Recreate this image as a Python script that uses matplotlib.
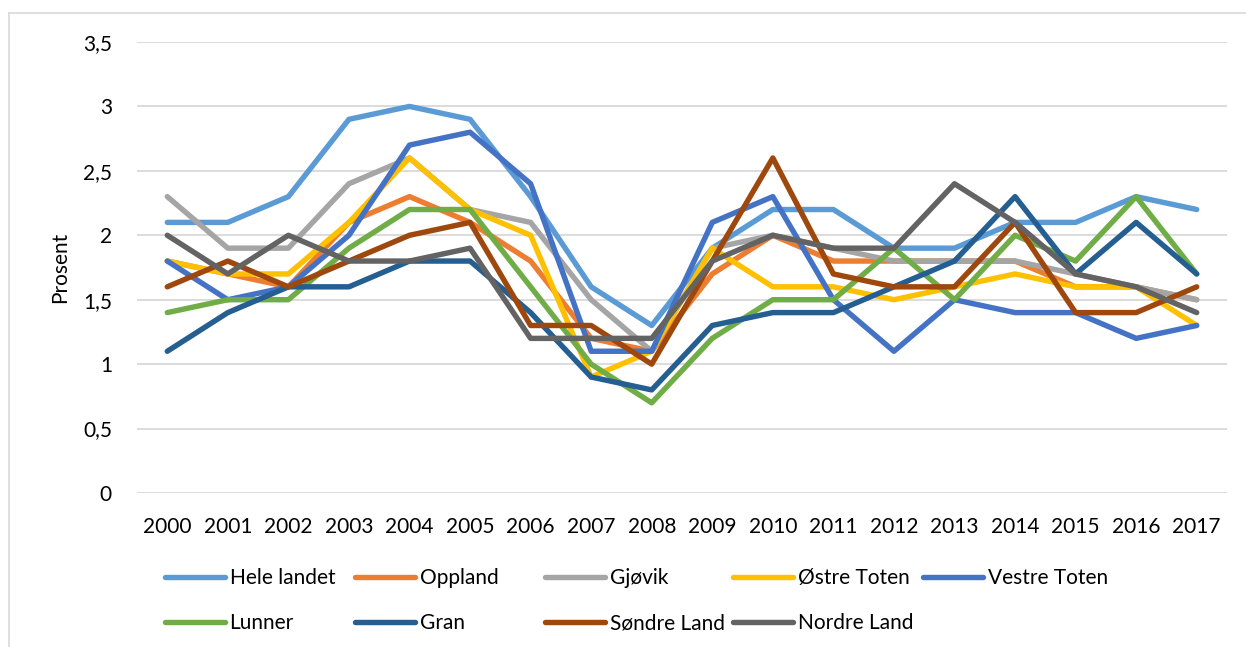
# arbeidsledighet_oppland.py
# Ledighet i prosent 2000-2017, Oppland-kommuner mot hele landet.

import matplotlib
matplotlib.use("Agg")
import matplotlib.pyplot as plt
from matplotlib.lines import Line2D

years = [str(y) for y in range(2000, 2018)]

hele_landet  = [2.1, 2.1, 2.3, 2.9, 3.0, 2.9, 2.3, 1.6, 1.3, 1.9, 2.2, 2.2, 1.9, 1.9, 2.1, 2.1, 2.3, 2.2]
oppland      = [1.8, 1.7, 1.6, 2.1, 2.3, 2.1, 1.8, 1.2, 1.1, 1.7, 2.0, 1.8, 1.8, 1.8, 1.8, 1.6, 1.6, 1.5]
gjovik       = [2.3, 1.9, 1.9, 2.4, 2.6, 2.2, 2.1, 1.5, 1.1, 1.9, 2.0, 1.9, 1.8, 1.8, 1.8, 1.7, 1.6, 1.5]
ostre_toten  = [1.8, 1.7, 1.7, 2.1, 2.6, 2.2, 2.0, 0.9, 1.1, 1.9, 1.6, 1.6, 1.5, 1.6, 1.7, 1.6, 1.6, 1.3]
vestre_toten = [1.8, 1.5, 1.6, 2.0, 2.7, 2.8, 2.4, 1.1, 1.1, 2.1, 2.3, 1.5, 1.1, 1.5, 1.4, 1.4, 1.2, 1.3]
lunner       = [1.4, 1.5, 1.5, 1.9, 2.2, 2.2, 1.6, 1.0, 0.7, 1.2, 1.5, 1.5, 1.9, 1.5, 2.0, 1.8, 2.3, 1.7]
gran         = [1.1, 1.4, 1.6, 1.6, 1.8, 1.8, 1.4, 0.9, 0.8, 1.3, 1.4, 1.4, 1.6, 1.8, 2.3, 1.7, 2.1, 1.7]
sondre_land  = [1.6, 1.8, 1.6, 1.8, 2.0, 2.1, 1.3, 1.3, 1.0, 1.8, 2.6, 1.7, 1.6, 1.6, 2.1, 1.4, 1.4, 1.6]
nordre_land  = [2.0, 1.7, 2.0, 1.8, 1.8, 1.9, 1.2, 1.2, 1.2, 1.8, 2.0, 1.9, 1.9, 2.4, 2.1, 1.7, 1.6, 1.4]

names = ["Hele landet", "Oppland", "Gjøvik", "Østre Toten", "Vestre Toten",
         "Lunner", "Gran", "Søndre Land", "Nordre Land"]
series = [hele_landet, oppland, gjovik, ostre_toten, vestre_toten,
          lunner, gran, sondre_land, nordre_land]
colors = ["#5B9BD5", "#ED7D31", "#A5A5A5", "#FFC000", "#4472C4",
          "#70AD47", "#255E91", "#9E480E", "#636363"]

yticks = [0, 0.5, 1, 1.5, 2, 2.5, 3, 3.5]
ytick_labels = ["0", "0,5", "1", "1,5", "2", "2,5", "3", "3,5"]

plt.rcParams["font.family"] = ["Lato", "DejaVu Sans"]
FS = 15

W, H = 1246, 647
fig = plt.figure(figsize=(W / 100, H / 100), dpi=100)
ax = fig.add_axes([137 / W, 1 - 493 / H, (1227 - 137) / W, (493 - 42) / H])

x = list(range(len(years)))
lines = []
for vals, name, col in zip(series, names, colors):
    ln, = ax.plot(x, vals, color=col, linewidth=3.9, label=name,
                  solid_joinstyle="round", solid_capstyle="round")
    lines.append(ln)

ax.set_xlim(-0.5, len(years) - 0.5)
ax.set_ylim(0, 3.5)
ax.set_xticks(x)
ax.set_xticklabels(years, fontsize=FS, color="#000000")
ax.set_yticks(yticks)
ax.set_yticklabels(ytick_labels, fontsize=FS, color="#000000")
ax.tick_params(axis="both", length=0)
ax.tick_params(axis="x", pad=17)
ax.tick_params(axis="y", pad=18)
ax.grid(axis="y", color="#D9D9D9", linewidth=1.3)
ax.set_axisbelow(True)
for sp in ax.spines.values():
    sp.set_visible(False)
ax.set_ylabel("Prosent", fontsize=FS, labelpad=9)

# forklaring: fem kolonner med lik bredde som i Excel
col_x = [165, 355, 545, 733, 923]
for c in range(5):
    idx = [i for i in (c, c + 5) if i < len(lines)]
    fig.legend([lines[i] for i in idx], [names[i] for i in idx],
               loc="upper left", bbox_to_anchor=(col_x[c] / W, 1 - 568 / H),
               frameon=False, fontsize=FS, handlelength=2.9, handletextpad=0.2,
               borderpad=0, borderaxespad=0, labelspacing=1.2)

# ramme rundt diagrammet (bare venstre og topp synlig)
fig.add_artist(Line2D([9 / W, 9 / W], [0, 1 - 13 / H], transform=fig.transFigure,
                      color="#D9D9D9", linewidth=1.2))
fig.add_artist(Line2D([9 / W, 1], [1 - 13 / H, 1 - 13 / H], transform=fig.transFigure,
                      color="#D9D9D9", linewidth=1.2))

fig.savefig("out.png", dpi=100)
